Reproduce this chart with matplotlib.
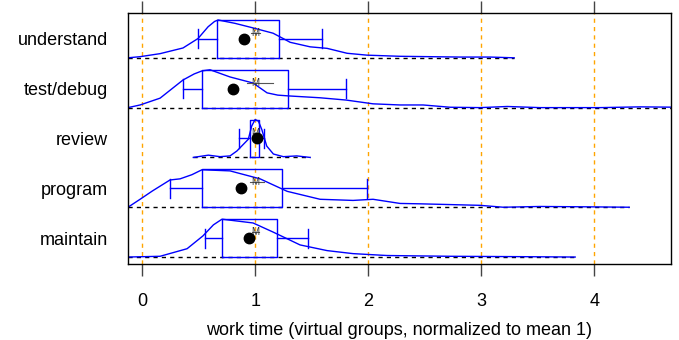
import matplotlib
matplotlib.use("Agg")
import matplotlib.pyplot as plt

plt.rcParams['font.family'] = ['Liberation Sans', 'DejaVu Sans']

# groups, top to bottom
groups = ["understand", "test/debug", "review", "program", "maintain"]

# box-and-whisker summaries (work time, normalized to mean 1)
whisk_lo = [0.491, 0.361, 0.857, 0.246, 0.556]
q1 = [0.662, 0.527, 0.954, 0.529, 0.704]
q3 = [1.211, 1.291, 1.034, 1.238, 1.193]
whisk_hi = [1.592, 1.804, 1.078, 1.990, 1.465]
medians = [0.901, 0.804, 1.016, 0.872, 0.943]
means = [1.0, 1.0, 1.0, 1.0, 1.0]
mean_se_lo = [0.96, 0.93, 0.98, 0.95, 0.97]
mean_se_hi = [1.04, 1.16, 1.02, 1.08, 1.03]

# density outlines: x positions and height relative to the peak
dens_x = [
    [-0.126, -0.019, 0.158, 0.361, 0.494, 0.583, 0.640, 0.671, 0.822, 0.981, 1.158,
     1.247, 1.309, 1.486, 1.636, 1.813, 1.990, 2.282, 2.548, 2.814, 3.08, 3.292],
    [-0.126, -0.019, 0.158, 0.361, 0.460, 0.529, 0.600, 0.777, 0.981, 1.105, 1.200, 1.291,
     1.574, 1.804, 2.043, 2.282, 2.486, 2.725, 2.991, 3.23, 3.522, 4.053, 4.407, 4.75],
    [0.452, 0.585, 0.689, 0.777, 0.838, 0.939, 0.969, 0.999, 1.028, 1.058,
     1.102, 1.161, 1.249, 1.368, 1.486],
    [-0.126, -0.019, 0.09, 0.246, 0.335, 0.440, 0.529, 0.777, 1.043, 1.283, 1.574,
     1.866, 2.043, 2.282, 2.459, 2.991, 3.195, 3.522, 3.965, 4.310],
    [-0.126, 0.158, 0.397, 0.538, 0.630, 0.706, 0.981, 1.158, 1.397, 1.636, 1.866,
     2.167, 2.725, 3.345, 3.832],
]
dens_h = [
    [0.0, 0.03, 0.11, 0.26, 0.51, 0.82, 0.96, 1.0, 0.91, 0.79, 0.65,
     0.51, 0.41, 0.29, 0.25, 0.12, 0.07, 0.04, 0.03, 0.02, 0.02, 0.0],
    [0.0, 0.07, 0.25, 0.73, 0.89, 0.97, 1.0, 0.81, 0.65, 0.39, 0.33, 0.31,
     0.26, 0.2, 0.1, 0.07, 0.07, 0.01, 0.0, 0.03, 0.0, 0.0, 0.02, 0.01],
    [0.0, 0.06, 0.02, 0.04, 0.17, 0.48, 0.83, 1.0, 0.96, 0.74,
     0.3, 0.09, 0.02, 0.04, 0.0],
    [0.0, 0.21, 0.43, 0.72, 0.75, 0.86, 0.99, 0.96, 0.75, 0.42, 0.21,
     0.18, 0.21, 0.1, 0.09, 0.05, 0.0, 0.02, 0.01, 0.0],
    [0.0, 0.02, 0.22, 0.56, 0.85, 1.0, 0.9, 0.66, 0.32, 0.17, 0.09,
     0.04, 0.02, 0.01, 0.0],
]

xticks = [0, 1, 2, 3, 4]

fig = plt.figure(figsize=(6.79, 3.4), dpi=100)
ax = fig.add_axes([0.1885, 0.2235, 0.7997, 0.7383])

blue = "#0000FF"
half = 0.38  # half height of a row's box

for x in xticks:
    ax.axvline(x, color="#FFA500", lw=1, ls=(0, (3, 3)), zorder=0)

n = len(groups)
for i, g in enumerate(groups):
    yc = n - i
    base = yc - half
    # baseline
    ax.plot([dens_x[i][0], dens_x[i][-1]], [base, base], color="black",
            lw=1, ls=(0, (3, 3)), zorder=1)
    # density outline
    ax.plot(dens_x[i], [base + 2 * half * h for h in dens_h[i]],
            color=blue, lw=1, zorder=2, solid_joinstyle="round")
    # box
    ax.plot([q1[i], q3[i], q3[i], q1[i], q1[i]],
            [base, base, yc + half, yc + half, base], color=blue, lw=1, zorder=3)
    # whiskers and caps
    ax.plot([whisk_lo[i], q1[i]], [yc, yc], color=blue, lw=1, zorder=3)
    ax.plot([q3[i], whisk_hi[i]], [yc, yc], color=blue, lw=1, zorder=3)
    for w in (whisk_lo[i], whisk_hi[i]):
        ax.plot([w, w], [yc - 0.19, yc + 0.19], color=blue, lw=1, zorder=3)
    # mean with standard error
    ax.plot([mean_se_lo[i], mean_se_hi[i]], [yc + 0.12, yc + 0.12],
            color="#555555", lw=0.8, zorder=4)
    ax.text(means[i], yc + 0.12, "M", fontsize=7, color="#333333",
            ha="center", va="center", zorder=5)
    # median
    ax.plot([medians[i]], [yc], "o", color="black", ms=7.5, zorder=6)

ax.set_xlim(-0.126, 4.68)
ax.set_ylim(0.48, 5.52)
ax.set_yticks(range(1, n + 1))
ax.set_yticklabels(groups[::-1], fontsize=13)
ax.tick_params(axis="y", length=0, pad=14.4)
ax.set_xticks(xticks)
ax.set_xticklabels([str(x) for x in xticks], fontsize=13)
ax.tick_params(axis="x", top=True, direction="out", length=8.6, width=1,
               color="#444444", pad=12)
ax.set_xlabel("work time (virtual groups, normalized to mean 1)",
              fontsize=13, labelpad=9)
for s in ax.spines.values():
    s.set_linewidth(1)

fig.savefig("out.png", dpi=100)
